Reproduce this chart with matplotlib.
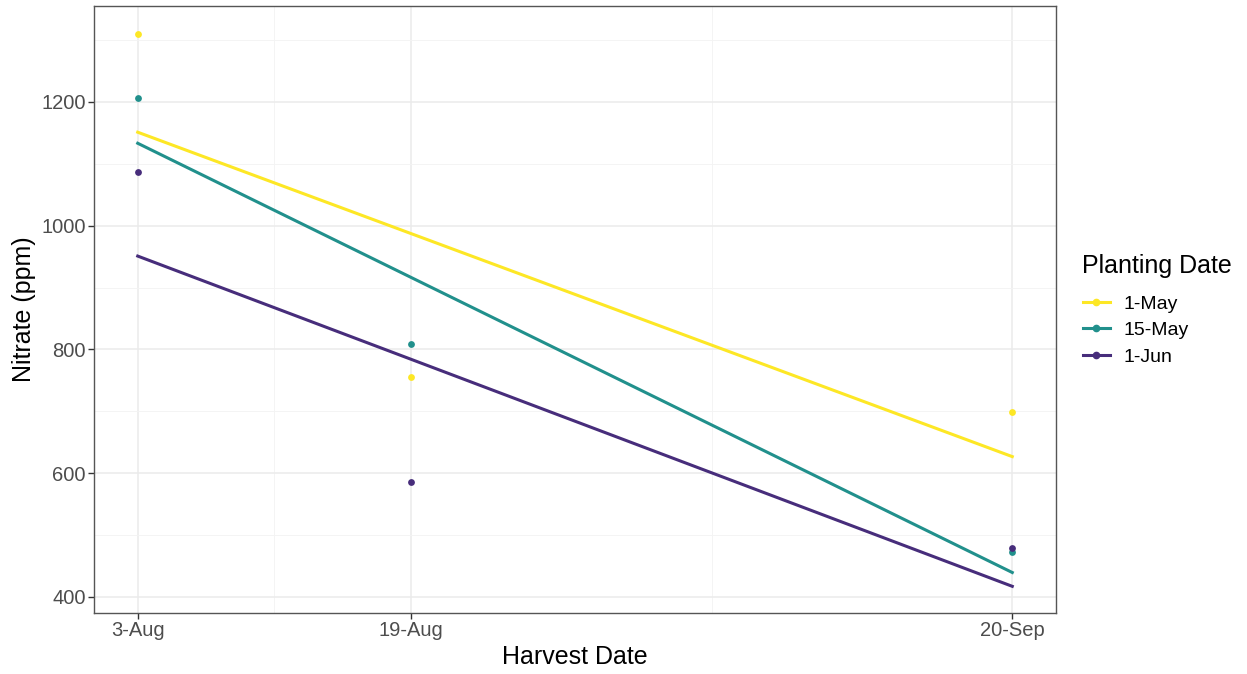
import matplotlib
matplotlib.use("Agg")
import matplotlib.pyplot as plt
import numpy as np
from matplotlib.lines import Line2D

plt.rcParams['font.family'] = ['Liberation Sans', 'DejaVu Sans']

harvest_days = [0, 15, 48]
harvest_labels = ['3-Aug', '19-Aug', '20-Sep']
planting = ['1-May', '15-May', '1-Jun']
may1 = [1310, 756, 699]
may15 = [1207, 809, 473]
jun1 = [1087, 586, 479]
colors = ['#FDE725', '#21908C', '#472D7B']

fig = plt.figure(figsize=(12.47, 6.74), dpi=100)
ax = fig.add_axes([94/1247, 1-613/674, (1056-94)/1247, (613-6)/674])

series = [may1, may15, jun1]
x = np.array(harvest_days, dtype=float)
handles = []
for name, ys, c in zip(planting, series, colors):
    ys = np.array(ys, dtype=float)
    ax.scatter(x, ys, s=24, color=c, zorder=3, linewidths=0)
    slope, intercept = np.polyfit(x, ys, 1)
    xx = np.array([x.min(), x.max()])
    ax.plot(xx, intercept + slope*xx, color=c, lw=2.2, zorder=4)
    handles.append(Line2D([0], [0], color=c, lw=2.2, marker='o', markersize=4.5, label=name))

ax.set_xlim(-2.4, 50.4)
ax.set_ylim(374, 1355)
ax.set_xticks(harvest_days)
ax.set_xticklabels(harvest_labels)
ax.set_yticks([400, 600, 800, 1000, 1200])
ax.set_xticks([7.5, 31.5], minor=True)
ax.set_yticks([500, 700, 900, 1100, 1300], minor=True)
ax.grid(True, which='major', color='#EBEBEB', lw=1.1)
ax.grid(True, which='minor', color='#F3F3F3', lw=0.6)
ax.set_axisbelow(True)
ax.tick_params(axis='both', which='major', labelsize=14.5, colors='#333333', length=4, width=1,
               labelcolor='#4D4D4D', pad=2)
ax.tick_params(axis='both', which='minor', length=0)
for sp in ax.spines.values():
    sp.set_color('#555555')
    sp.set_linewidth(1)
ax.set_xlabel('Harvest Date', fontsize=18, labelpad=3)
ax.set_ylabel('Nitrate (ppm)', fontsize=18, labelpad=4)

leg = fig.legend(handles=handles, title='Planting Date', loc='upper left',
                 bbox_to_anchor=(1065/1247, 1-237/674), frameon=False,
                 fontsize=14, title_fontsize=18, handlelength=1.4,
                 labelspacing=0.45, handletextpad=0.7)
leg._legend_box.align = 'left'
leg._legend_box.sep = 12

fig.savefig('out.png', dpi=100)
